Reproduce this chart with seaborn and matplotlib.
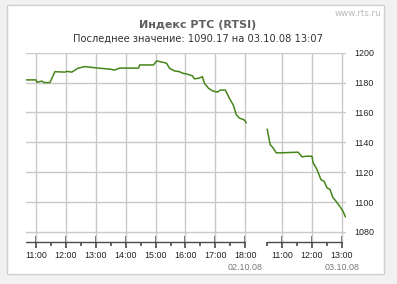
import matplotlib
matplotlib.use("Agg")
import numpy as np
import pandas as pd
import matplotlib.pyplot as plt
import seaborn as sns
from matplotlib.patches import Rectangle
from matplotlib.transforms import blended_transform_factory

# ---------------- data ----------------
title = "Индекс РТС (RTSI)"
subtitle = "Последнее значение: 1090.17 на 03.10.08 13:07"
watermark = "www.rts.ru"
day_labels = ["02.10.08", "03.10.08"]

day1_times = ["10:40", "11:00", "11:02", "11:12", "11:16", "11:28", "11:38", "11:58",
              "12:02", "12:12", "12:24", "12:38", "13:02", "13:28", "13:38", "13:48",
              "14:26", "14:28", "14:56", "15:02", "15:12", "15:22", "15:28", "15:38",
              "15:48", "15:54", "16:04", "16:14", "16:18", "16:28", "16:34", "16:38",
              "16:46", "16:54", "17:04", "17:10", "17:20", "17:28", "17:36", "17:42",
              "17:48", "17:58", "18:02"]
day1_values = [1181.8, 1181.8, 1180.2, 1181.0, 1180.0, 1180.0, 1187.3, 1187.0,
               1187.5, 1187.0, 1189.6, 1190.7, 1189.8, 1189.0, 1188.4, 1189.7,
               1189.7, 1191.8, 1191.8, 1194.5, 1193.8, 1193.0, 1189.6, 1187.8,
               1187.3, 1186.3, 1185.6, 1184.5, 1182.5, 1183.0, 1184.0, 1179.6,
               1176.3, 1174.5, 1173.6, 1175.0, 1175.0, 1169.6, 1165.0, 1158.5,
               1156.3, 1155.0, 1153.0]

day2_times = ["10:30", "10:36", "10:42", "10:48", "10:58", "11:32", "11:40", "11:48",
              "12:00", "12:02", "12:10", "12:18", "12:24", "12:30", "12:36", "12:42",
              "12:48", "12:56", "13:02", "13:07"]
day2_values = [1148.9, 1138.5, 1136.2, 1133.0, 1133.0, 1133.4, 1130.3, 1130.7,
               1130.7, 1126.5, 1121.8, 1115.0, 1114.0, 1109.6, 1108.5, 1103.0,
               1100.7, 1097.0, 1094.0, 1090.17]

y_ticks = [1080, 1100, 1120, 1140, 1160, 1180, 1200]
day1_hours = [11, 12, 13, 14, 15, 16, 17, 18]
day2_hours = [11, 12, 13]

# ---------------- layout constants ----------------
DAY2_SHIFT = 8.2333          # horizontal offset of the second session on the axis
DAY1_START, DAY1_END = 10 + 40 / 60, 18.0
DAY2_START, DAY2_END = 10.5, 13.0
LINE_COLOR = "#468519"
GRID_COLOR = "#c9c9c9"
AXIS_COLOR = "#4a4a4a"


def to_hours(t):
    h, m = t.split(":")
    return int(h) + int(m) / 60


df = pd.concat([
    pd.DataFrame({"pos": [to_hours(t) for t in day1_times], "value": day1_values, "day": day_labels[0]}),
    pd.DataFrame({"pos": [to_hours(t) + DAY2_SHIFT for t in day2_times], "value": day2_values, "day": day_labels[1]}),
], ignore_index=True)

sns.set_theme(style="white")
plt.rcParams["font.family"] = ["DejaVu Sans"]

fig = plt.figure(figsize=(3.97, 2.84), dpi=100, facecolor="#f1f1f1")
panel = Rectangle((7 / 397, 10 / 284), 377 / 397, 269 / 284,
                  transform=fig.transFigure, facecolor="white",
                  edgecolor="#cfcfcf", linewidth=1.0, zorder=-5)
fig.add_artist(panel)

ax = fig.add_axes([26 / 397, 42 / 284, 320 / 397, 189.3 / 284])
ax.set_zorder(5)
ax.set_facecolor("none")

sns.lineplot(data=df, x="pos", y="value", hue="day", units="day", estimator=None,
             palette={day_labels[0]: LINE_COLOR, day_labels[1]: LINE_COLOR},
             legend=False, linewidth=1.1, ax=ax, zorder=3)

ax.set_xlim(DAY1_START, DAY2_SHIFT + 13 + 7 / 60 + 0.02)
ax.set_ylim(1073.3, 1200)

for s in ax.spines.values():
    s.set_visible(False)

# horizontal grid across the whole width
ax.set_yticks(y_ticks)
for v in y_ticks:
    ax.axhline(v, color=GRID_COLOR, linewidth=1.0, zorder=1)

major_pos = list(day1_hours) + [h + DAY2_SHIFT for h in day2_hours]
major_lab = [f"{h}:00" for h in day1_hours] + [f"{h}:00" for h in day2_hours]
minor_pos = [h + 0.5 for h in day1_hours[:-1]] + [h - 0.5 + DAY2_SHIFT for h in day2_hours]
ax.set_xticks(major_pos)
ax.set_xticklabels(major_lab)
ax.set_xticks(minor_pos, minor=True)
for p in major_pos:
    ax.axvline(p, color=GRID_COLOR, linewidth=1.0, zorder=1)

# broken time axis
trans = blended_transform_factory(ax.transData, ax.transAxes)
ax.plot([DAY1_START, DAY1_END], [0, 0], color=AXIS_COLOR, lw=1.0, transform=trans, clip_on=False, zorder=4)
ax.plot([DAY2_START + DAY2_SHIFT, DAY2_END + DAY2_SHIFT], [0, 0], color=AXIS_COLOR, lw=1.0,
        transform=trans, clip_on=False, zorder=4)

ax.tick_params(axis="x", which="both", bottom=True, top=False)
ax.tick_params(axis="x", which="major", direction="inout", length=8, width=1.2,
               color=AXIS_COLOR, pad=2.5, labelsize=6.4, labelcolor="#222222")
ax.tick_params(axis="x", which="minor", direction="out", length=3, width=1.2, color=AXIS_COLOR)
ax.yaxis.tick_right()
ax.tick_params(axis="y", which="major", left=False, right=False, length=0, pad=6,
               labelsize=6.4, labelcolor="#222222")
for lab in ax.get_xticklabels() + ax.get_yticklabels():
    lab.set_family("Liberation Sans")

ax.set_xlabel("")
ax.set_ylabel("")

# session dates under the last tick of each session
ax.text(day1_hours[-1], -0.135, day_labels[0], transform=trans, ha="center", va="center",
        fontsize=6.4, color="#777777", family="Liberation Sans")
ax.text(day2_hours[-1] + DAY2_SHIFT, -0.135, day_labels[1], transform=trans, ha="center", va="center",
        fontsize=6.4, color="#777777", family="Liberation Sans")

fig.text(198 / 397, 1 - 25 / 284, title, ha="center", va="center", fontsize=8,
         fontweight="bold", color="#606060")
fig.text(198 / 397, 1 - 39 / 284, subtitle, ha="center", va="center", fontsize=7.1, color="#333333")
fig.text(381 / 397, 1 - 13 / 284, watermark, ha="right", va="center", fontsize=6.3, color="#bbbbbb")

fig.savefig("out.png", dpi=100, facecolor=fig.get_facecolor())
